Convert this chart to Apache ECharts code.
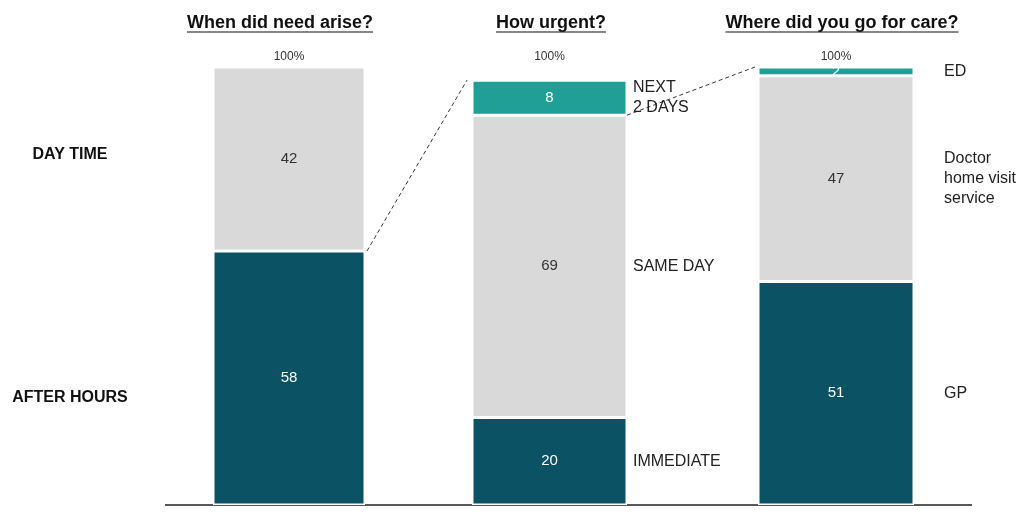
<!DOCTYPE html>
<html><head><meta charset="utf-8">
<script src="https://cdn.jsdelivr.net/npm/echarts@6/dist/echarts.min.js"></script>
<style>html,body{margin:0;padding:0;background:#fff}#c{width:1020px;height:515px}</style>
</head><body><div id="c"></div>
<script>
// ---- data ----
const panelTitles = ['When did need arise?', 'How urgent?', 'Where did you go for care?'];
const totalLabel = '100%';
const totalValue = 100;
const whenCategories = ['AFTER HOURS', 'DAY TIME'];
const whenValues = [58, 42];
const urgencyCategories = ['IMMEDIATE', 'SAME DAY', 'NEXT\n2 DAYS'];
const urgencyValues = [20, 69, 8];
const careCategories = ['GP', 'Doctor\nhome visit\nservice', 'ED'];
const careValues = [51, 47, 2];

// ---- style ----
const DARK = '#0b5265', GRAY = '#d9d9d9', TEAL = '#1f9f96';
const FONT = '"Liberation Sans", Arial, Helvetica, sans-serif';
const TOP = 67, BOTTOM = 505;
const leftLabelNudge = [20, -4];
const panels = [
  {cats: whenCategories, vals: whenValues, colors: [DARK, GRAY], left: 213, width: 152, side: 'left', titleX: 280},
  {cats: urgencyCategories, vals: urgencyValues, colors: [DARK, GRAY, TEAL], left: 472, width: 155, side: 'right', dist: 6, titleX: 551},
  {cats: careCategories, vals: careValues, colors: [DARK, GRAY, TEAL], left: 758, width: 156, side: 'right', dist: 30, titleX: 842}
];

const chart = echarts.init(document.getElementById('c'));
const grid = panels.map(p => ({left: p.left, width: p.width, top: TOP, height: BOTTOM - TOP}));
const xAxis = panels.map((p, i) => ({type: 'category', gridIndex: i, data: [panelTitles[i]], show: false}));
const yAxis = panels.map((p, i) => ({type: 'value', gridIndex: i, min: 0, max: 100, show: false}));
const series = [];
panels.forEach((p, i) => {
  p.vals.forEach((v, j) => {
    series.push({
      type: 'bar', xAxisIndex: i, yAxisIndex: i, stack: 'seg' + i, barWidth: p.width, barGap: '-100%',
      data: [v],
      itemStyle: {color: p.colors[j], borderColor: '#fff', borderWidth: 1.5},
      label: {show: true, position: 'inside', color: p.colors[j] === GRAY ? '#333' : '#fff',
              fontSize: 15, fontFamily: FONT}
    });
  });
  p.vals.forEach((v, j) => {
    const lab = p.side === 'left'
      ? {show: true, position: [-(p.left - 70), '50%'], offset: [0, leftLabelNudge[j]], align: 'center', verticalAlign: 'middle',
         fontWeight: 'bold', fontSize: 16, fontFamily: FONT, color: '#111', formatter: p.cats[j]}
      : {show: true, position: 'right', distance: p.dist, align: 'left', verticalAlign: 'middle',
         fontSize: 16, lineHeight: 20, fontFamily: FONT, color: '#222', formatter: p.cats[j]};
    series.push({type: 'bar', xAxisIndex: i, yAxisIndex: i, stack: 'lab' + i, barWidth: p.width, barGap: '-100%',
      data: [v], itemStyle: {color: 'rgba(0,0,0,0)'}, label: lab, silent: true});
  });
  series.push({type: 'bar', xAxisIndex: i, yAxisIndex: i, stack: 'tot' + i, barWidth: p.width, barGap: '-100%',
    data: [totalValue], itemStyle: {color: 'rgba(0,0,0,0)'}, silent: true, z: 1,
    label: {show: true, position: 'top', distance: 4, formatter: totalLabel, fontSize: 12, fontFamily: FONT, color: '#333'}});
});

chart.setOption({animation: false, backgroundColor: '#fff', grid, xAxis, yAxis, series});

// ---- overlays computed through the axes ----
const ctx = document.createElement('canvas').getContext('2d');
const titleFont = 'bold 18px "Liberation Sans", Arial, sans-serif';
ctx.font = titleFont;
const px = (i, v) => chart.convertToPixel({gridIndex: i}, [0, v]);
const sum = a => a.reduce((s, x) => s + x, 0);
const graphic = [];
panels.forEach((p, i) => {
  const w = ctx.measureText(panelTitles[i]).width;
  graphic.push({type: 'text', x: p.titleX, y: 23, style: {text: panelTitles[i], font: titleFont, fill: '#111',
    textAlign: 'center', textVerticalAlign: 'middle'}});
  graphic.push({type: 'line', shape: {x1: p.titleX - w / 2, y1: 32, x2: p.titleX + w / 2, y2: 32},
    style: {stroke: '#111', lineWidth: 1.2}});
});
const y0 = px(0, 0)[1];
graphic.push({type: 'line', shape: {x1: 165, y1: y0, x2: 972, y2: y0}, style: {stroke: '#222', lineWidth: 1.5}});
// connector 1: top of AFTER HOURS -> top of urgency bar
const a1 = px(0, whenValues[0]); const b1 = px(1, sum(urgencyValues));
graphic.push({type: 'line', shape: {x1: a1[0] + panels[0].width / 2 + 2, y1: a1[1], x2: b1[0] - panels[1].width / 2 - 5, y2: b1[1]},
  style: {stroke: '#333', lineWidth: 1, lineDash: [4, 3]}});
// connector 2: bottom of NEXT 2 DAYS -> top of care bar
const a2 = px(1, urgencyValues[0] + urgencyValues[1]); const b2 = px(2, sum(careValues));
graphic.push({type: 'line', shape: {x1: a2[0] + panels[1].width / 2, y1: a2[1], x2: b2[0] - panels[2].width / 2 - 3, y2: b2[1]},
  style: {stroke: '#333', lineWidth: 1, lineDash: [4, 3]}});
chart.setOption({graphic});
</script></body></html>
